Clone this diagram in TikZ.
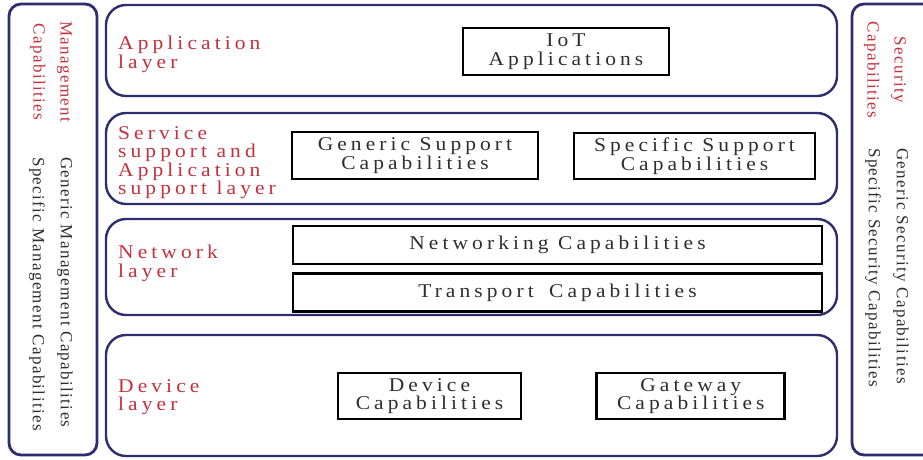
\documentclass[tikz,border=0pt]{standalone}
\usepackage{fontspec}
\setmainfont{Liberation Serif}
\newfontfamily\labelfont[LetterSpace=21,FakeStretch=1.1]{Liberation Serif}
\newfontfamily\sidefont[LetterSpace=8]{Liberation Serif}
\definecolor{Navy}{RGB}{46,45,110}
\definecolor{LayerRed}{RGB}{196,48,60}
\definecolor{TextGrey}{RGB}{45,45,45}
\usepackage{tikz}
\usetikzlibrary{positioning}

\tikzset{
  layer/.style={draw=Navy, line width=2.4pt, rounded corners=20pt},
  panel/.style={draw=Navy, line width=2.8pt, rounded corners=12pt},
  capbox/.style={draw=black, line width=2.8pt, inner sep=0pt, align=center, text=TextGrey,
    font=\labelfont\fontsize{19.5}{18.5}\selectfont},
  layername/.style={anchor=north west, inner sep=0pt, align=left, text=LayerRed,
    font=\labelfont\fontsize{19.5}{18.5}\selectfont},
  sidename/.style={rotate=-90, inner sep=0pt, align=center, text=LayerRed,
    font=\sidefont\fontsize{17}{27}\selectfont},
  sidelist/.style={rotate=-90, anchor=west, inner sep=0pt, align=left, text=TextGrey,
    font=\sidefont\fontsize{17}{28}\selectfont},
}

\begin{document}
\begin{tikzpicture}[x=1pt, y=-1pt]
      \useasboundingbox (0,0) rectangle (923,459);
      \clip (0,0) rectangle (923,459);
      %\draw[help lines, step=50] (0,0) grid (923,459);

      % side panels
      \draw[panel] (9,4) rectangle (97,455);
      \draw[panel] (852,4) rectangle (945,455);
      \node[sidename] (mgmt) at (51,72) {Management\\Capabilities};
      \node[sidelist] (mgmtlist) at (51,157) {Generic Management Capabilities\\Specific Management Capabilities};
      \node[sidename] (sec) at (885,70) {Security\\Capabilities};
      \node[sidelist] (seclist) at (887,148) {Generic Security Capabilities\\Specific Security Capabilities};

      % layers
      \draw[layer] (106,5) rectangle (837,96);
      \draw[layer] (106,113) rectangle (837,204);
      \draw[layer] (106,219) rectangle (837,315);
      \draw[layer] (106,335) rectangle (837,456);

      \node[layername] (appname) at (118,36) {Application\\layer};
      \node[layername] (svcname) at (118,126) {Service\\support and\\Application\\support layer};
      \node[layername] (netname) at (118,245) {Network\\layer};
      \node[layername] (devname) at (118,379) {Device\\layer};

      % capabilities
      \node[capbox, minimum width=206, minimum height=47] (iot) at (566,51.5) {IoT\\Applications};
      \node[capbox, minimum width=246, minimum height=47] (gsc) at (415,155.5) {Generic Support\\Capabilities};
      \node[capbox, minimum width=241, minimum height=46] (ssc) at (694.5,156) {Specific Support\\Capabilities};
      \node[capbox, minimum width=529, minimum height=38] (ntw) at (557.5,245) {Networking Capabilities};
      \node[capbox, minimum width=529, minimum height=38, below=7pt of ntw] (trn) {Transport\hspace{6pt} Capabilities};
      \node[capbox, minimum width=183, minimum height=46] (dvc) at (429.5,396) {Device\\Capabilities};
      \node[capbox, minimum width=188, minimum height=46, right=73pt of dvc] (gwc) {Gateway\\Capabilities};

    \end{tikzpicture}
\end{document}
